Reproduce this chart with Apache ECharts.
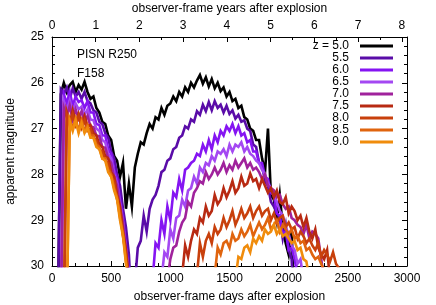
<!DOCTYPE html>
<html><head><meta charset="utf-8">
<script src="https://cdn.jsdelivr.net/npm/echarts@6/dist/echarts.min.js"></script>
<style>html,body{margin:0;padding:0;background:#fff}#c{width:436px;height:305px}</style>
</head><body><div id="c"></div>
<script>
var days = [0,25,50,75,100,125,150,175,200,225,250,275,300,325,350,375,400,425,450,475,
500,525,550,575,600,625,650,675,700,725,750,775,800,825,850,875,900,925,950,975,
1000,1025,1050,1075,1100,1125,1150,1175,1200,1225,1250,1275,1300,1325,1350,1375,1400,1425,1450,1475,
1500,1525,1550,1575,1600,1625,1650,1675,1700,1725,1750,1775,1800,1825,1850,1875,1900,1925,1950,1975,
2000,2025,2050,2075,2100,2125,2150,2175,2200,2225,2250,2275,2300,2325,2350,2375,2400,2425,2450,2475,2500];

var seriesNames = ['z = 5.0','5.5','6.0','6.5','7.0','7.5','8.0','8.5','9.0'];
var seriesColors = ['#000000','#5a0ca8','#8514f2','#a448f2','#a0229c','#b82a12','#c8400c','#e0640e','#f08c0c'];

var m50 = [31,31,31,26.25,26.0,26.2,26.05,25.98,26.2,26.05,
26.15,25.98,26.2,26.35,26.3,26.55,26.65,26.85,26.9,27.15,
27.25,27.6,27.7,28.05,27.75,28.75,28.2,28.7,27.85,27.55,
27.3,27.35,27.1,26.9,27.0,26.75,26.8,26.55,26.7,26.5,
26.45,26.3,26.4,26.2,26.3,26.1,26.2,26.0,26.1,25.95,
25.83,26.02,25.88,26.08,25.92,26.12,26.0,26.18,26.1,26.3,
26.2,26.4,26.35,26.55,26.5,26.75,26.8,27.0,27.05,27.25,
27.25,27.65,27.95,27.0,28.45,28.55,29.0,28.45,29.15,29.5,
29.75,29.25,31,31,31,31,31,31,31,31,
31,31,31,31,31,31,31,31,31,31,31];
var m55 = [31,31,31,26.15,26.25,26.1,26.35,26.12,26.3,26.2,
26.35,26.2,26.4,26.45,26.6,26.65,26.85,26.9,27.1,27.2,
27.5,27.65,28.0,28.25,28.75,29.15,29.75,31,30.4,29.6,
29.45,28.9,29.25,28.75,28.55,28.45,28.25,27.95,27.9,27.7,
27.65,27.45,27.4,27.2,27.15,26.95,27.0,26.8,26.85,26.62,
26.7,26.48,26.62,26.42,26.6,26.4,26.55,26.48,26.65,26.5,
26.68,26.6,26.78,26.7,26.85,26.82,27.0,27.05,27.35,27.4,
27.75,27.8,28.15,28.25,28.6,28.7,28.85,28.95,29.4,29.1,
29.65,29.85,31,31,31,31,31,31,31,31,
31,31,31,31,31,31,31,31,31,31,31];
var m60 = [31,31,31,31,26.25,26.45,26.2,26.5,26.3,26.42,
26.38,26.55,26.4,26.65,26.65,26.9,26.92,27.15,27.15,27.45,
27.55,27.9,28.1,28.55,28.95,29.55,30.1,31,31,31,
31,31,31,31,30.3,29.5,29.6,29.0,29.3,28.7,
29.0,28.4,28.5,28.1,28.35,27.9,27.85,27.75,27.7,27.55,
27.6,27.35,27.5,27.25,27.45,27.15,27.3,27.05,27.15,26.95,
27.05,26.9,27.1,26.95,27.15,27.1,27.3,27.25,27.5,27.5,
27.75,27.75,28.05,28.1,28.4,28.45,28.85,28.9,29.3,29.25,
29.65,29.6,29.85,30.2,31,31,31,31,31,31,
31,31,31,31,31,31,31,31,31,31,31];
var m65 = [31,31,31,31,26.4,26.6,26.38,26.62,26.45,26.58,
26.52,26.7,26.58,26.8,26.82,27.0,27.05,27.25,27.3,27.55,
27.65,28.0,28.2,28.65,29.05,29.65,30.2,31,31,31,
31,31,31,31,31,31,31,30.3,29.7,29.8,
29.2,29.4,28.95,28.9,28.55,28.7,28.35,28.3,28.05,28.2,
27.85,27.95,27.75,27.8,27.6,27.7,27.5,27.55,27.45,27.6,
27.35,27.5,27.35,27.4,27.3,27.5,27.4,27.55,27.6,27.7,
27.75,27.9,28.0,28.2,28.3,28.45,28.6,28.8,28.9,29.15,
29.3,29.55,29.65,29.95,29.85,30.3,31,31,31,31,
31,31,31,31,31,31,31,31,31,31,31];
var m70 = [31,31,31,31,26.55,26.75,26.5,26.8,26.58,26.78,
26.62,26.85,26.72,26.95,26.97,27.15,27.17,27.4,27.42,27.65,
27.75,28.05,28.25,28.7,29.05,29.65,30.2,31,31,31,
31,31,31,31,31,31,31,31,31,30.3,
29.85,29.6,29.55,29.25,29.05,28.95,28.6,28.7,28.4,28.3,
28.15,28.2,27.95,28.1,28.0,27.85,28.0,27.9,27.75,27.95,
27.8,27.9,27.7,27.85,27.75,27.65,27.85,27.75,27.9,27.85,
27.95,28.1,28.0,28.25,28.3,28.35,28.5,28.45,28.65,28.75,
28.7,28.95,29.0,29.1,29.15,29.3,29.1,29.4,29.25,29.3,
29.4,29.85,30.3,31,31,31,31,31,31,31,31];
var m75 = [31,31,31,31,31,26.65,26.9,26.6,26.88,26.68,
26.9,26.72,26.95,26.92,27.1,27.15,27.35,27.4,27.6,27.65,
27.95,28.05,28.45,28.7,29.25,29.65,30.3,31,31,31,
31,31,31,31,31,31,31,31,31,31,
31,31,31,31,30.2,29.55,29.8,29.45,29.2,29.3,
28.95,29.05,28.7,28.9,28.8,28.45,28.65,28.55,28.3,28.5,
28.35,28.15,28.4,28.3,28.05,28.25,28.2,27.98,28.15,28.1,
28.3,28.1,28.25,28.4,28.3,28.5,28.35,28.6,28.65,28.5,
28.85,28.7,28.8,29.0,28.9,29.15,28.95,29.25,29.4,29.2,
29.6,29.75,29.85,29.65,30.3,31,31,31,31,31,31];
var m80 = [31,31,31,31,31,26.7,26.95,26.68,26.92,26.72,
26.98,26.82,27.05,27.0,27.2,27.25,27.45,27.5,27.7,27.75,
28.05,28.15,28.55,28.8,29.35,29.75,30.4,31,31,31,
31,31,31,31,31,31,31,31,31,31,
31,31,31,31,31,31,31,31,31,30.2,
29.5,29.8,29.45,29.3,29.5,29.15,29.3,29.2,28.95,29.15,
29.0,28.8,29.1,28.95,28.75,28.95,28.85,28.7,28.95,28.8,
28.7,28.9,28.8,28.75,29.0,28.85,29.05,28.95,28.9,29.15,
29.05,29.2,29.15,29.4,29.25,29.35,29.5,29.4,29.55,29.65,
29.5,29.8,29.65,29.75,29.9,29.7,29.95,30.05,30.4,31,31];
var m85 = [31,31,31,31,31,31,26.8,27.0,26.78,27.05,
26.82,27.05,26.92,27.15,27.15,27.35,27.4,27.65,27.65,27.9,
28.0,28.3,28.5,28.95,29.3,29.9,30.4,31,31,31,
31,31,31,31,31,31,31,31,31,31,
31,31,31,31,31,31,31,31,31,31,
31,31,31,31,31,30.2,29.6,29.75,29.5,29.45,
29.6,29.3,29.45,29.4,29.2,29.35,29.25,29.1,29.35,29.2,
29.05,29.2,29.1,28.95,29.2,29.1,29.0,29.25,29.1,29.2,
29.3,29.2,29.4,29.35,29.5,29.45,29.65,29.6,29.75,29.85,
29.8,29.95,30.1,31,31,31,31,31,31,31,31];
var m90 = [31,31,31,31,31,31,26.85,27.05,26.82,27.1,
26.88,27.1,26.98,27.2,27.2,27.4,27.45,27.65,27.7,27.95,
28.05,28.35,28.55,29.0,29.35,29.95,30.5,31,31,31,
31,31,31,31,31,31,31,31,31,31,
31,31,31,31,31,31,31,31,31,31,
31,31,31,31,31,31,31,31,31,31,
31,31,30.3,29.8,29.85,29.6,29.55,29.7,29.4,29.5,
29.35,29.45,29.2,29.3,29.25,29.1,29.3,29.2,29.35,29.3,
29.4,29.5,29.45,29.65,29.6,29.85,29.9,30.3,31,31,
31,31,31,31,31,31,31,31,31,31,31];

var yTicks = [25,26,27,28,29,30];
var yearTicks = [0,1,2,3,4,5,6,7,8];

var allMags = [m50,m55,m60,m65,m70,m75,m80,m85,m90];
var FONT = 'Liberation Sans, Arial, sans-serif';

var series = allMags.map(function(m, k){
  return {
    name: seriesNames[k], type: 'line', xAxisIndex: 0, yAxisIndex: 0,
    data: days.map(function(d,i){ return [d, m[i]]; }),
    showSymbol: false, symbol: 'none', clip: true,
    lineStyle: {width: 2.6, color: seriesColors[k], join: 'miter'},
    itemStyle: {color: seriesColors[k]},
    z: 2 + k, animation: false
  };
});

var tickCommon = {inside: true, length: 5, lineStyle: {color: '#000', width: 1}};
var minorCommon = {show: true, length: 3, lineStyle: {color: '#000', width: 1}};
var lineCommon = {show: true, onZero: false, lineStyle: {color: '#000', width: 1}};

var chart = echarts.init(document.getElementById('c'), null, {renderer: 'canvas'});
chart.setOption({
  animation: false,
  backgroundColor: '#fff',
  textStyle: {fontFamily: FONT},
  grid: {left: 52, right: 29, top: 37, bottom: 39, containLabel: false, outerBoundsMode: 'none'},
  xAxis: [
    {type: 'value', position: 'bottom', min: 0, max: 3000, interval: 500,
     axisLine: lineCommon, axisTick: tickCommon,
     minorTick: Object.assign({splitNumber: 5}, minorCommon),
     splitLine: {show: false}, minorSplitLine: {show: false},
     axisLabel: {color: '#000', fontSize: 12, fontFamily: FONT, margin: 7,
       formatter: function(v){ return String(v); }},
     name: 'observer-frame days after explosion', nameLocation: 'middle', nameGap: 25,
     nameTextStyle: {color: '#000', fontSize: 12, fontFamily: FONT}},
    {type: 'value', position: 'top', min: 0, max: 8.12, interval: 1,
     axisLine: lineCommon, axisTick: tickCommon,
     minorTick: Object.assign({splitNumber: 2}, minorCommon),
     splitLine: {show: false},
     axisLabel: {color: '#000', fontSize: 12, fontFamily: FONT, margin: 5,
       formatter: function(v){ return yearTicks.indexOf(v) >= 0 ? String(v) : ''; }},
     name: 'observer-frame years after explosion', nameLocation: 'middle', nameGap: 22,
     nameTextStyle: {color: '#000', fontSize: 12, fontFamily: FONT}}
  ],
  yAxis: [
    {type: 'value', position: 'left', inverse: true, min: 25, max: 30, interval: 1,
     axisLine: lineCommon, axisTick: tickCommon,
     minorTick: Object.assign({splitNumber: 5}, minorCommon),
     splitLine: {show: false},
     axisLabel: {color: '#000', fontSize: 12, fontFamily: FONT, margin: 8,
       formatter: function(v){ return yTicks.indexOf(v) >= 0 ? String(v) : ''; }},
     name: 'apparent magnitude', nameLocation: 'middle', nameGap: 35, nameRotate: 90,
     nameTextStyle: {color: '#000', fontSize: 12, fontFamily: FONT}},
    {type: 'value', position: 'right', inverse: true, min: 25, max: 30, interval: 1,
     axisLine: lineCommon, axisTick: tickCommon,
     minorTick: Object.assign({splitNumber: 5}, minorCommon),
     splitLine: {show: false}, axisLabel: {show: false}}
  ],
  legend: {
    orient: 'vertical', right: 43, top: 40, align: 'right',
    itemWidth: 33, itemHeight: 3, itemGap: 0, icon: 'rect',
    selectedMode: false, padding: 0,
    data: seriesNames.map(function(n, k){ return {name: n, itemStyle: {color: seriesColors[k]}}; }),
    formatter: function(n){ return '{a|' + n + '}'; },
    textStyle: {color: '#000', fontSize: 12, fontFamily: FONT,
      rich: {a: {width: 44, align: 'right', lineHeight: 12.1, fontSize: 12, fontFamily: FONT, color: '#000', padding: [0, 6, 0, 0]}}}
  },
  graphic: [
    {type: 'text', left: 77, top: 49, style: {text: 'PISN R250', fill: '#000', font: '12px ' + FONT}},
    {type: 'text', left: 77, top: 68, style: {text: 'F158', fill: '#000', font: '12px ' + FONT}}
  ],
  series: series
});
</script></body></html>
